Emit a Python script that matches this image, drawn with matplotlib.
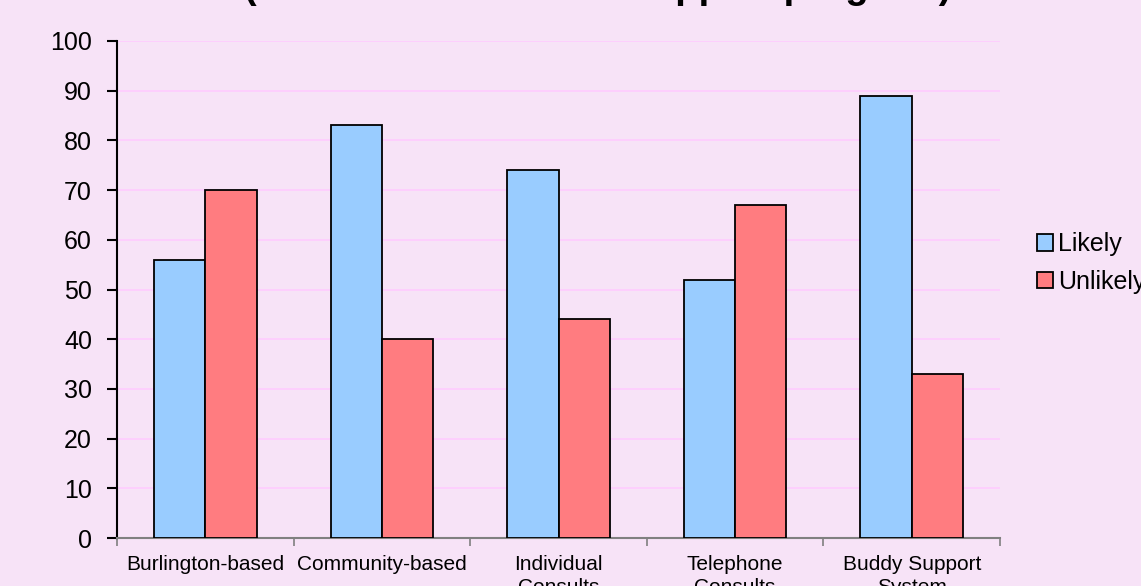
import numpy as np
import matplotlib.pyplot as plt

categories = ['Burlington-based', 'Community-based', 'Individual\nConsults',
              'Telephone\nConsults', 'Buddy Support\nSystem']
likely = [56, 83, 74, 52, 89]
unlikely = [70, 40, 44, 67, 33]
series_names = ['Likely', 'Unlikely']
title = '(Likelihood to attend support program)'

bg = '#f7e3f7'
c_likely = '#99ccff'
c_unlikely = '#ff7c80'

plt.rcParams['font.family'] = ['Liberation Sans', 'DejaVu Sans']

W, H = 1141, 586
fig = plt.figure(figsize=(W / 100, H / 100), dpi=100, facecolor=bg)
ax = fig.add_axes([117 / W, 1 - 538 / H, (1000 - 117) / W, (538 - 41) / H])
ax.set_facecolor(bg)

x = np.arange(len(categories))
w = 0.29
ax.bar(x - w / 2, likely, w, color=c_likely, edgecolor='black', linewidth=1.3,
       label=series_names[0], zorder=3)
ax.bar(x + w / 2, unlikely, w, color=c_unlikely, edgecolor='black', linewidth=1.3,
       label=series_names[1], zorder=3)

ax.set_xlim(-0.5, len(categories) - 0.5)
ax.set_ylim(0, 100)
ax.set_yticks(range(0, 101, 10))
ax.yaxis.grid(True, color='#ffccff', linewidth=1.2, zorder=0)
ax.set_axisbelow(True)

ax.set_xticks(x)
ax.set_xticklabels(categories, fontsize=15, linespacing=1.3, va='top')
ax.set_xticks(np.arange(-0.5, len(categories), 1.0), minor=True)
ax.tick_params(axis='x', which='major', length=0, pad=12)
ax.tick_params(axis='x', which='minor', length=6, width=1.2, color='#808080', direction='out')
ax.tick_params(axis='y', labelsize=18, length=7, width=1.5, direction='out', pad=11)

for s in ['top', 'right']:
    ax.spines[s].set_visible(False)
ax.spines['left'].set_linewidth(1.5)
ax.spines['left'].set_color('black')
ax.spines['bottom'].set_linewidth(1.5)
ax.spines['bottom'].set_color('#808080')

leg = fig.legend(loc='upper left', bbox_to_anchor=(1027 / W, 1 - 222 / H),
                 frameon=False, fontsize=18, handlelength=0.65, handleheight=0.65,
                 handletextpad=0.2, labelspacing=0.55, borderaxespad=0)

fig.text(598 / W, 1 + 2 / H, title, ha='center', va='baseline',
         fontsize=27.5, fontweight='bold')

fig.savefig('out.png', dpi=100, facecolor=bg)
